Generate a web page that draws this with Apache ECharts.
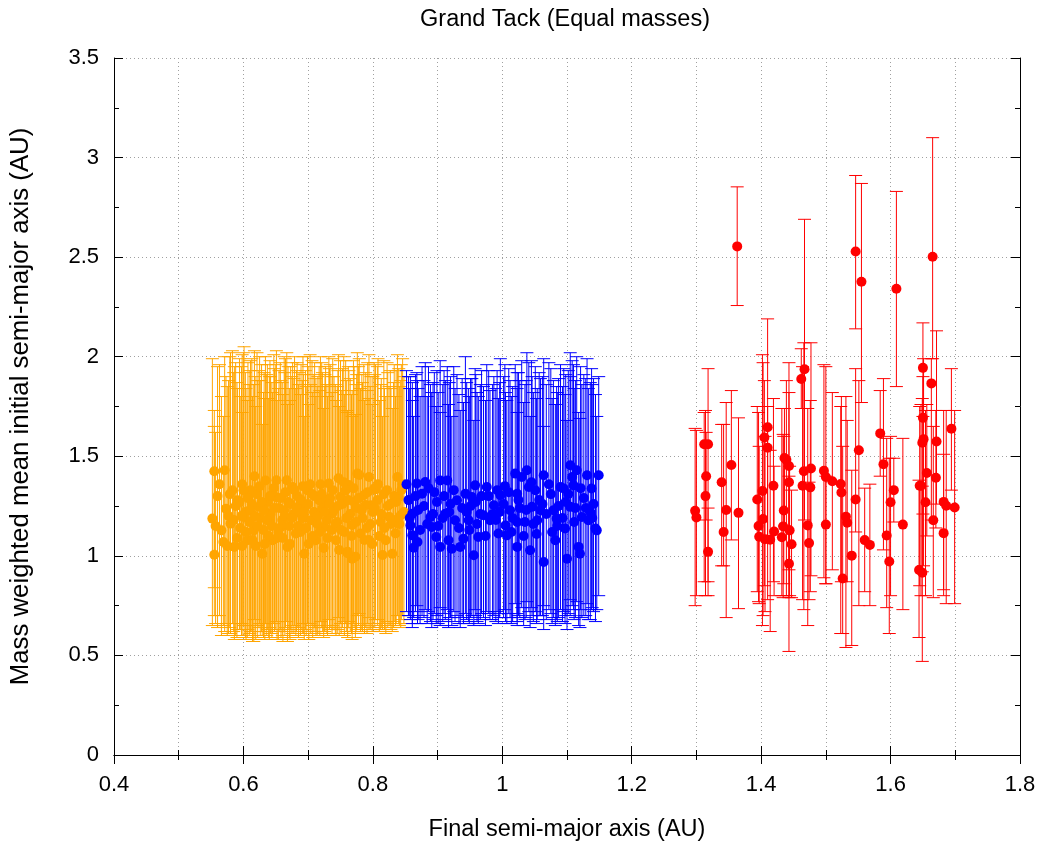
<!DOCTYPE html>
<html>
<head>
<meta charset="utf-8">
<script src="https://cdn.jsdelivr.net/npm/echarts@6/dist/echarts.min.js"></script>
<style>html,body{margin:0;padding:0;background:#fff}#c{width:1044px;height:850px}</style>
</head>
<body>
<div id="c"></div>
<script>
// Tick labels
var xTicks = [0.4, 0.6, 0.8, 1, 1.2, 1.4, 1.6, 1.8];
var yTicks = [0, 0.5, 1, 1.5, 2, 2.5, 3, 3.5];
var titleText = 'Grand Tack (Equal masses)';
var xName = 'Final semi-major axis (AU)';
var yName = 'Mass weighted mean initial semi-major axis (AU)';

// [final a, mean initial a, lower bar, upper bar]
var orangePoints = [
 [0.555,1.425,0.84,1.65],[0.552,1.187,0.65,1.99],[0.555,1.006,0.70,1.73],[0.571,1.430,0.62,2.00],[0.573,1.237,0.66,1.90],
 [0.566,1.128,0.60,1.80],[0.569,1.070,0.65,1.70],[0.580,1.162,0.61,2.02],[0.586,1.045,0.58,1.95],[0.583,1.329,0.66,2.03],
 [0.591,1.279,0.63,1.84],[0.601,1.195,0.60,2.05],[0.606,1.078,0.59,1.78],[0.611,1.329,0.62,1.98],[0.616,1.128,0.57,1.86],
 [0.624,1.246,0.64,1.93],[0.629,1.011,0.60,1.66],[0.634,1.379,0.66,2.00],[0.640,1.179,0.58,1.90],[0.645,1.078,0.61,1.82],
 [0.650,1.296,0.63,1.96],[0.658,1.145,0.59,1.88],[0.663,1.229,0.62,2.00],[0.668,1.045,0.57,1.76],[0.676,1.346,0.65,1.97],
 [0.681,1.112,0.60,1.84],[0.686,1.246,0.64,1.92],[0.694,1.011,0.58,1.70],[0.699,1.329,0.66,2.00],[0.704,1.179,0.61,1.86],
 [0.712,1.078,0.60,1.80],[0.717,1.279,0.65,1.95],[0.725,1.145,0.62,1.85],[0.732,1.363,0.68,2.00],[0.737,1.212,0.63,1.90],
 [0.743,1.078,0.60,1.78],[0.750,1.296,0.66,1.98],[0.761,1.020,0.59,1.72],[0.768,0.986,0.58,1.70],[0.776,1.413,0.70,2.02],
 [0.781,1.112,0.62,1.84],[0.786,1.304,0.65,1.96],[0.794,1.396,0.69,2.01],[0.797,1.254,0.64,1.90],[0.802,1.338,0.66,1.97],
 [0.812,1.170,0.63,1.86],[0.820,1.078,0.61,1.80],[0.830,1.011,0.62,1.74],[0.838,1.396,0.70,2.01],[0.840,1.296,0.66,1.94],
 [0.843,1.204,0.64,1.88],
 [0.779,1.406,0.71,1.99],[0.763,1.356,0.67,1.93],[0.804,1.334,0.68,1.96],[0.789,1.256,0.64,1.92],[0.825,1.197,0.65,1.85],
 [0.768,1.155,0.62,1.83],[0.794,1.080,0.63,1.79],[0.748,1.029,0.60,1.75],[0.773,0.996,0.59,1.71],[0.815,1.004,0.63,1.70],
 [0.761,1.013,0.61,1.73],[0.727,1.281,0.64,1.95],[0.712,1.214,0.62,1.89],[0.737,1.130,0.61,1.82],[0.835,1.113,0.65,1.80],
 [0.560,1.30,0.64,1.95],[0.577,1.20,0.61,1.88],[0.588,1.25,0.60,1.97],[0.595,1.14,0.63,1.80],[0.598,1.36,0.66,2.01],
 [0.603,1.22,0.59,1.92],[0.609,1.17,0.60,1.86],[0.613,1.26,0.62,1.99],[0.619,1.05,0.58,1.75],[0.621,1.31,0.65,2.02],
 [0.626,1.19,0.60,1.88],[0.631,1.13,0.59,1.82],[0.637,1.27,0.63,1.96],[0.642,1.21,0.61,1.90],[0.647,1.34,0.66,2.01],
 [0.652,1.09,0.58,1.78],[0.655,1.24,0.62,1.93],[0.660,1.18,0.60,1.87],[0.665,1.32,0.64,1.99],[0.671,1.15,0.59,1.84],
 [0.673,1.26,0.63,1.95],[0.678,1.21,0.61,1.89],[0.683,1.30,0.64,1.97],[0.688,1.12,0.60,1.81],[0.691,1.19,0.61,1.88],
 [0.696,1.25,0.63,1.93],[0.701,1.06,0.58,1.76],[0.706,1.31,0.65,1.98],[0.709,1.22,0.62,1.91],[0.714,1.16,0.60,1.85],
 [0.719,1.36,0.67,2.00],[0.722,1.24,0.62,1.92],[0.729,1.18,0.61,1.86],[0.734,1.29,0.64,1.96],[0.740,1.23,0.63,1.90],
 [0.745,1.17,0.61,1.85],[0.753,1.26,0.64,1.94],[0.756,1.12,0.60,1.81],[0.758,1.33,0.66,1.98],[0.765,1.21,0.62,1.89],
 [0.771,1.27,0.64,1.95],[0.784,1.19,0.62,1.87],[0.791,1.14,0.61,1.83],[0.800,1.22,0.63,1.90],[0.807,1.28,0.65,1.95],
 [0.810,1.10,0.62,1.78],[0.817,1.31,0.66,1.98],[0.823,1.25,0.64,1.92],[0.828,1.16,0.63,1.84],[0.833,1.30,0.67,1.96],
 [0.846,1.36,0.70,1.99],[0.617,1.40,0.68,2.03],[0.639,1.10,0.59,1.79],[0.667,1.38,0.67,2.02],[0.692,1.35,0.66,2.00],
 [0.724,1.04,0.59,1.74],[0.747,1.39,0.69,2.01],[0.775,1.24,0.63,1.91],[0.598,1.05,0.60,1.72],[0.632,1.23,0.62,1.92],
 [0.557,1.15,0.66,1.62],[0.563,1.36,0.70,1.96],[0.575,1.05,0.60,1.85],[0.579,1.31,0.64,2.00],[0.585,1.18,0.62,1.92],
 [0.590,1.09,0.59,1.87],[0.594,1.27,0.63,1.99],[0.597,1.20,0.60,1.95],[0.600,1.33,0.65,2.02],[0.604,1.12,0.58,1.84],
 [0.607,1.29,0.63,1.97],[0.610,1.23,0.61,1.93],[0.614,1.08,0.57,1.80],[0.618,1.20,0.60,1.90],[0.622,1.15,0.59,1.88],
 [0.625,1.35,0.66,2.00],[0.628,1.27,0.62,1.96],[0.633,1.06,0.58,1.79],[0.636,1.18,0.60,1.91],[0.641,1.30,0.64,1.98],
 [0.644,1.15,0.59,1.87],[0.648,1.24,0.62,1.94],[0.651,1.38,0.67,2.03],[0.654,1.12,0.58,1.84],[0.657,1.29,0.63,1.97],
 [0.661,1.09,0.57,1.81],[0.664,1.20,0.60,1.92],[0.669,1.27,0.63,1.95],[0.672,1.06,0.58,1.78],[0.675,1.19,0.61,1.90],
 [0.679,1.33,0.65,2.00],[0.682,1.24,0.62,1.93],[0.685,1.15,0.59,1.86],[0.689,1.28,0.63,1.96],[0.693,1.22,0.61,1.91],
 [0.697,1.14,0.60,1.85],[0.700,1.26,0.62,1.95],[0.703,1.36,0.66,2.01],[0.707,1.10,0.59,1.82],[0.710,1.30,0.64,1.97],
 [0.715,1.20,0.61,1.90],[0.718,1.12,0.60,1.83],[0.721,1.31,0.64,1.97],[0.726,1.22,0.62,1.91],[0.730,1.09,0.60,1.80],
 [0.733,1.26,0.63,1.94],[0.738,1.33,0.65,1.99],[0.742,1.16,0.61,1.86],[0.746,1.25,0.63,1.93],[0.751,1.13,0.61,1.83],
 [0.755,1.37,0.67,2.00],[0.759,1.19,0.62,1.88],[0.762,1.28,0.64,1.95],[0.767,1.10,0.61,1.81],[0.770,1.34,0.66,1.98],
 [0.774,1.17,0.62,1.86],[0.778,1.29,0.65,1.95],[0.783,1.23,0.63,1.91],[0.787,1.08,0.61,1.78],[0.792,1.32,0.66,1.97],
 [0.796,1.16,0.63,1.85],[0.799,1.06,0.62,1.76],[0.803,1.24,0.64,1.91],[0.808,1.36,0.68,1.99],[0.813,1.21,0.64,1.89],
 [0.818,1.14,0.63,1.84],[0.822,1.33,0.67,1.97],[0.827,1.26,0.65,1.93],[0.832,1.18,0.64,1.87],[0.836,1.27,0.66,1.93],
 [0.841,1.16,0.65,1.85],[0.844,1.33,0.68,1.96],[0.848,1.22,0.66,1.90]
];

var bluePoints = [
 [0.852,1.359,0.72,1.93],[0.861,1.212,0.66,1.87],[0.858,1.153,0.68,1.90],[0.861,1.103,0.64,1.78],[0.863,1.041,0.69,1.70],
 [0.869,1.070,0.66,1.88],[0.868,1.363,0.75,1.92],[0.876,1.312,0.70,1.95],[0.881,1.371,0.73,1.97],[0.889,1.195,0.67,1.86],
 [0.891,1.145,0.64,1.82],[0.898,1.095,0.66,1.75],[0.899,1.271,0.70,1.93],[0.904,1.379,0.74,1.98],[0.904,1.045,0.65,1.72],
 [0.912,1.212,0.68,1.88],[0.915,1.379,0.73,1.95],[0.917,1.078,0.64,1.76],[0.922,1.036,0.65,1.70],[0.927,1.179,0.67,1.84],
 [0.930,1.279,0.70,1.91],[0.935,1.045,0.64,1.73],[0.940,1.086,0.66,1.77],[0.943,1.312,0.71,2.00],[0.948,1.179,0.67,1.84],
 [0.953,1.296,0.70,1.89],[0.956,1.003,0.65,1.68],[0.958,1.354,0.73,1.94],[0.963,1.095,0.66,1.80],[0.971,1.204,0.69,1.85],
 [0.976,1.346,0.72,1.96],[0.981,1.179,0.68,1.83],[0.987,1.254,0.70,1.90],[0.992,1.329,0.72,1.93],[0.994,1.112,0.66,1.79],
 [0.997,1.304,0.71,1.99],[1.005,1.153,0.67,1.82],[1.007,1.103,0.66,1.78],[1.012,1.229,0.69,1.88],[1.020,1.413,0.76,1.96],
 [1.023,1.312,0.71,1.92],[1.023,1.170,0.67,1.84],[1.023,1.045,0.65,1.72],[1.030,1.396,0.74,1.98],[1.035,1.170,0.68,1.86],
 [1.038,1.430,0.77,2.02],[1.041,1.346,0.72,1.97],[1.043,1.028,0.64,1.70],[1.046,1.246,0.70,1.90],[1.051,1.329,0.72,1.95],
 [1.054,1.179,0.68,1.84],[1.059,1.229,0.70,1.89],[1.064,1.405,0.75,1.99],[1.064,0.969,0.63,1.65],[1.077,1.120,0.66,1.79],
 [1.079,1.229,0.69,1.88],[1.082,1.078,0.65,1.76],[1.084,1.187,0.68,1.85],[1.090,1.346,0.73,1.96],[1.095,1.338,0.72,1.94],
 [1.097,1.137,0.66,1.81],[1.100,0.986,0.63,1.68],[1.105,1.455,0.78,2.02],[1.105,1.246,0.70,1.90],[1.108,1.396,0.75,1.98],
 [1.110,1.354,0.73,1.96],[1.115,1.430,0.77,2.00],[1.118,1.045,0.65,1.72],[1.120,1.011,0.64,1.69],[1.123,1.195,0.69,1.86],
 [1.131,1.405,0.76,1.99],[1.133,1.179,0.68,1.84],[1.138,1.338,0.73,1.94],[1.144,1.137,0.67,1.81],[1.146,1.128,0.73,1.70],
 [1.149,1.405,0.80,1.90],
 [0.870,1.23,0.68,1.84],[0.884,1.16,0.66,1.80],[0.895,1.32,0.71,1.92],[0.908,1.19,0.67,1.86],[0.920,1.26,0.69,1.90],
 [0.933,1.14,0.66,1.81],[0.945,1.22,0.68,1.87],[0.951,1.25,0.69,1.89],[0.961,1.16,0.67,1.82],[0.968,1.30,0.71,1.93],
 [0.974,1.10,0.65,1.78],[0.985,1.21,0.68,1.86],[0.990,1.18,0.67,1.84],[1.002,1.26,0.69,1.90],[1.010,1.32,0.71,1.94],
 [1.016,1.19,0.67,1.85],[1.027,1.24,0.69,1.88],[1.033,1.10,0.65,1.77],[1.048,1.16,0.67,1.82],[1.057,1.28,0.70,1.92],
 [1.068,1.21,0.68,1.86],[1.072,1.36,0.73,1.97],[1.087,1.25,0.69,1.89],[1.093,1.19,0.67,1.85],[1.102,1.31,0.71,1.93],
 [1.113,1.24,0.69,1.88],[1.126,1.29,0.70,1.91],[1.136,1.22,0.68,1.87],[1.141,1.26,0.72,1.89],[0.855,1.28,0.70,1.90],
 [0.857,1.19,0.70,1.84],[0.866,1.30,0.72,1.91],[0.873,1.13,0.66,1.80],[0.879,1.25,0.69,1.88],[0.886,1.34,0.72,1.95],
 [0.893,1.21,0.68,1.87],[0.901,1.15,0.66,1.82],[0.910,1.30,0.71,1.93],[0.918,1.22,0.69,1.87],[0.925,1.33,0.72,1.95],
 [0.938,1.24,0.69,1.89],[0.949,1.13,0.66,1.80],[0.959,1.27,0.70,1.91],[0.966,1.21,0.68,1.86],[0.979,1.30,0.71,1.93],
 [0.996,1.22,0.69,1.87],[1.004,1.35,0.73,1.96],[1.014,1.12,0.66,1.80],[1.025,1.28,0.70,1.92],[1.037,1.23,0.69,1.88],
 [1.045,1.37,0.74,1.98],[1.053,1.11,0.66,1.79],[1.062,1.26,0.70,1.90],[1.075,1.31,0.71,1.94],[1.085,1.15,0.67,1.82],
 [1.098,1.27,0.70,1.91],[1.111,1.17,0.68,1.84],[1.121,1.34,0.73,1.95],[1.129,1.24,0.70,1.89],[1.139,1.19,0.74,1.86]
];

var redPoints = [
 [1.298,1.226,0.75,1.64],[1.300,1.193,0.80,1.63],[1.312,1.56,0.87,1.72],[1.318,1.56,0.80,1.94],[1.315,1.40,1.18,1.62],
 [1.314,1.30,0.80,1.73],[1.318,1.02,0.87,1.24],[1.339,1.37,0.95,1.66],[1.342,1.12,0.95,1.66],[1.346,1.23,0.69,1.77],
 [1.354,1.456,1.08,1.83],[1.365,1.216,0.735,1.693],[1.363,2.554,2.257,2.853],
 [1.394,1.283,0.82,1.75],[1.396,1.150,0.77,1.72],[1.397,1.096,0.76,1.55],[1.402,1.326,0.65,2.01],[1.403,1.185,0.70,1.97],
 [1.405,1.594,0.85,1.88],[1.410,1.646,1.09,2.19],[1.410,1.543,0.78,1.75],[1.406,1.084,0.72,1.60],[1.414,1.081,0.62,1.53],
 [1.419,1.352,0.87,1.79],[1.420,1.122,0.80,1.45],
 [1.432,1.093,0.80,1.74],[1.434,1.148,0.79,1.61],[1.435,1.228,0.86,1.60],[1.436,1.491,1.15,1.74],[1.439,1.482,0.80,1.88],
 [1.443,1.451,0.79,1.97],[1.443,1.370,0.93,1.82],[1.444,1.128,0.80,1.45],[1.443,0.960,0.52,1.40],[1.447,1.058,0.79,1.33],
 [1.462,1.888,1.74,2.04],[1.467,1.937,1.18,2.69],[1.466,1.425,0.73,2.07],[1.464,1.352,0.78,1.95],[1.477,1.439,0.90,2.07],
 [1.476,1.344,0.82,1.78],[1.472,1.153,0.65,1.74],[1.474,1.064,0.78,1.37],
 [1.497,1.427,0.89,1.96],[1.500,1.396,0.86,1.95],[1.500,1.157,0.86,1.40],[1.510,1.375,0.93,1.82],
 [1.523,1.361,0.61,1.75],[1.524,1.318,0.87,1.80],[1.526,0.886,0.61,1.55],[1.531,1.197,0.54,1.80],[1.533,1.166,0.87,1.68],
 [1.540,1.001,0.55,1.43],[1.546,1.283,1.12,1.94],[1.551,1.530,0.75,1.88],[1.546,2.528,2.14,2.91],[1.555,2.376,1.77,2.87],
 [1.560,1.079,0.82,1.34],[1.568,1.055,0.75,1.36],[1.584,1.615,1.40,1.83],[1.589,1.460,1.03,1.89],[1.594,1.102,0.74,1.59],
 [1.598,0.972,0.61,1.49],[1.600,1.269,0.80,1.60],[1.605,1.330,1.17,1.49],[1.609,2.341,1.85,2.83],[1.619,1.157,0.73,1.59],
 [1.644,0.929,0.59,1.38],[1.649,0.915,0.47,1.35],[1.645,1.352,0.85,1.75],[1.647,1.352,0.80,1.76],[1.649,1.568,0.92,1.79],
 [1.651,1.586,0.95,1.99],[1.650,1.693,1.21,1.90],[1.650,1.944,1.70,2.17],[1.656,1.416,1.10,1.76],[1.654,1.269,0.80,1.73],
 [1.665,2.502,1.99,3.10],[1.663,1.866,1.18,1.99],[1.666,1.179,0.79,1.65],[1.671,1.574,1.26,2.13],[1.670,1.392,1.14,1.73],
 [1.682,1.271,0.83,1.73],[1.686,1.252,0.76,1.73],[1.682,1.114,0.80,1.51],[1.694,1.638,1.33,1.94],[1.699,1.243,0.76,1.73]
];

var colors = { orange: '#FFA500', blue: '#0000FF', red: '#FF0000' };
var FONT = 'Liberation Sans, Arial, Helvetica, sans-serif';

function barRender(color) {
  return function (params, api) {
    var x = api.value(0), lo = api.value(2), hi = api.value(3);
    var pt = api.coord([x, hi]), pb = api.coord([x, lo]);
    var w = 6.5;
    var st = { stroke: color, lineWidth: 1 };
    return { type: 'group', children: [
      { type: 'line', shape: { x1: pt[0], y1: pt[1], x2: pb[0], y2: pb[1] }, style: st },
      { type: 'line', shape: { x1: pt[0] - w, y1: pt[1], x2: pt[0] + w, y2: pt[1] }, style: st },
      { type: 'line', shape: { x1: pb[0] - w, y1: pb[1], x2: pb[0] + w, y2: pb[1] }, style: st }
    ]};
  };
}

function barSeries(pts, color) {
  return { type: 'custom', renderItem: barRender(color), data: pts,
    encode: { x: 0, y: [2, 3] }, silent: true, animation: false, clip: true };
}
function dotSeries(pts, color) {
  return { type: 'scatter', data: pts.map(function (p) { return [p[0], p[1]]; }),
    symbol: 'circle', symbolSize: 10, itemStyle: { color: color, opacity: 1 },
    silent: true, animation: false };
}

var tickStyle = { show: true, inside: true, length: 9, lineStyle: { color: '#000', width: 1 } };
var minorStyle = { show: true, splitNumber: 2, length: 5, lineStyle: { color: '#000', width: 1 } };
var lineStyle = { show: true, lineStyle: { color: '#000', width: 1 } };
var gridLine = { show: true, lineStyle: { color: '#a0a0a0', type: [1, 3], width: 1 } };

var chart = echarts.init(document.getElementById('c'), null, { renderer: 'canvas' });
chart.setOption({
  backgroundColor: '#fff',
  animation: false,
  title: { text: titleText, left: 560, top: 3, textAlign: 'center',
    textStyle: { fontFamily: FONT, fontSize: 23.5, fontWeight: 'normal', color: '#000' } },
  grid: { left: 113, right: 24, top: 58, bottom: 95, containLabel: false },
  xAxis: [
    { type: 'value', min: 0.4, max: 1.8, interval: 0.2, position: 'bottom',
      name: xName, nameLocation: 'middle', nameGap: 63,
      nameTextStyle: { fontFamily: FONT, fontSize: 23.5, color: '#000' },
      axisLine: lineStyle, axisTick: tickStyle, minorTick: minorStyle,
      splitLine: gridLine, minorSplitLine: gridLine,
      axisLabel: { fontFamily: FONT, fontSize: 22, color: '#000', margin: 19,
        formatter: function (v) { var r = Math.round(v * 10) / 10; return xTicks.indexOf(r) >= 0 ? String(r) : ''; } } },
    { type: 'value', min: 0.4, max: 1.8, interval: 0.2, position: 'top',
      axisLine: lineStyle, axisTick: tickStyle, minorTick: minorStyle,
      splitLine: { show: false }, axisLabel: { show: false } }
  ],
  yAxis: [
    { type: 'value', min: 0, max: 3.5, interval: 0.5, position: 'left',
      name: yName, nameLocation: 'middle', nameGap: 80,
      nameTextStyle: { fontFamily: FONT, fontSize: 25.8, color: '#000' },
      axisLine: lineStyle, axisTick: tickStyle, minorTick: minorStyle,
      splitLine: gridLine,
      axisLabel: { fontFamily: FONT, fontSize: 22, color: '#000', margin: 15,
        formatter: function (v) { var r = Math.round(v * 10) / 10; return yTicks.indexOf(r) >= 0 ? String(r) : ''; } } },
    { type: 'value', min: 0, max: 3.5, interval: 0.5, position: 'right',
      axisLine: lineStyle, axisTick: tickStyle, minorTick: minorStyle,
      splitLine: { show: false }, axisLabel: { show: false } }
  ],
  series: [
    barSeries(orangePoints, colors.orange), dotSeries(orangePoints, colors.orange),
    barSeries(bluePoints, colors.blue), dotSeries(bluePoints, colors.blue),
    barSeries(redPoints, colors.red), dotSeries(redPoints, colors.red)
  ]
});
</script>
</body>
</html>
